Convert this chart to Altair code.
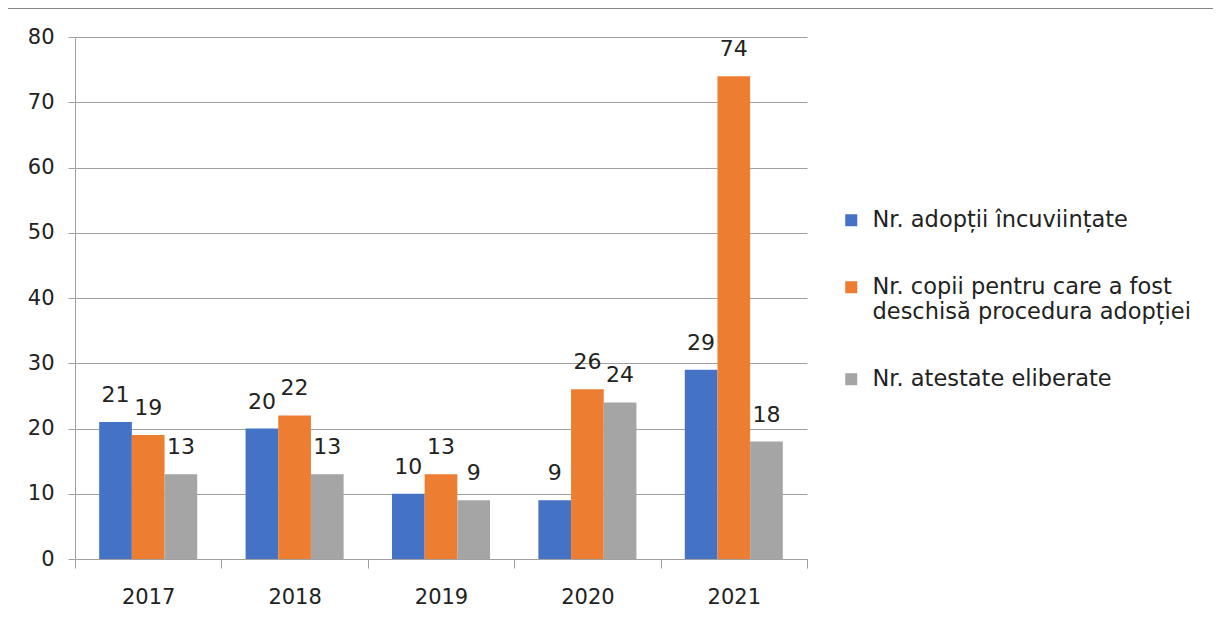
import altair as alt
import pandas as pd

years = ["2017", "2018", "2019", "2020", "2021"]
series = [
    "Nr. adopții încuviințate",
    "Nr. copii pentru care a fost deschisă procedura adopției",
    "Nr. atestate eliberate",
]
adoptii = [21, 20, 10, 9, 29]
copii = [19, 22, 13, 26, 74]
atestate = [13, 13, 9, 24, 18]
colors = ["#4472C4", "#ED7D31", "#A5A5A5"]
y_ticks = [0, 10, 20, 30, 40, 50, 60, 70, 80]

rows = []
for i, yr in enumerate(years):
    for s, vals in zip(series, [adoptii, copii, atestate]):
        rows.append({"year": yr, "series": s, "value": vals[i]})
df = pd.DataFrame(rows)

FONT = "DejaVu Sans"

x = alt.X("year:N", sort=years, title=None,
          scale=alt.Scale(paddingInner=0, paddingOuter=0),
          axis=alt.Axis(labelAngle=0, labelFontSize=21, labelFont=FONT, labelColor="#222",
                        labelPadding=18, domainColor="#A0A0A0", tickColor="#A0A0A0",
                        tickBand="extent", tickSize=9, grid=False))
y = alt.Y("value:Q", title=None,
          scale=alt.Scale(domain=[0, 80], nice=False),
          axis=alt.Axis(values=y_ticks, labelFontSize=21, labelFont=FONT, labelColor="#222",
                        labelPadding=14, domainColor="#A0A0A0", tickColor="#A0A0A0",
                        tickSize=7, gridColor="#A0A0A0", gridWidth=1))
xoff = alt.XOffset("series:N", sort=series,
                   scale=alt.Scale(paddingInner=0, paddingOuter=0.74))
color = alt.Color("series:N", sort=series,
                  scale=alt.Scale(domain=series, range=colors),
                  legend=alt.Legend(title=None, orient="none", legendX=765, legendY=172,
                                    symbolType="square", symbolSize=144, symbolStrokeWidth=0,
                                    labelFontSize=22.5, labelFont=FONT, labelColor="#222",
                                    labelLimit=450, rowPadding=44, labelOffset=10,
                                    labelExpr="datum.label == 'Nr. copii pentru care a fost deschisă procedura adopției' ? ['Nr. copii pentru care a fost', 'deschisă procedura adopției'] : datum.label"))

base = alt.Chart(df).encode(x=x, xOffset=xoff)
bars = base.mark_bar().encode(y=y, color=color)
labels = base.mark_text(dy=-27, fontSize=22, font=FONT, color="#222").encode(
    y="value:Q", text="value:Q")

frame_top = alt.Chart(df).mark_rule(color="#888", strokeWidth=1.5, clip=False).encode(
    x=alt.value(-68), x2=alt.value(1146), y=alt.value(-29))
frame_left = alt.Chart(df).mark_rule(color="#888", strokeWidth=1.5, clip=False).encode(
    x=alt.value(-68), y=alt.value(-29), y2=alt.value(580))

chart = alt.layer(bars, labels, frame_top, frame_left).properties(
    width=732, height=522,
    padding={"left": 67, "top": 29, "right": 406, "bottom": 50},
    autosize=alt.AutoSizeParams(type="none"),
).configure_view(stroke=None)

chart.save("out.html", embed_options={"renderer": "svg", "actions": False})
